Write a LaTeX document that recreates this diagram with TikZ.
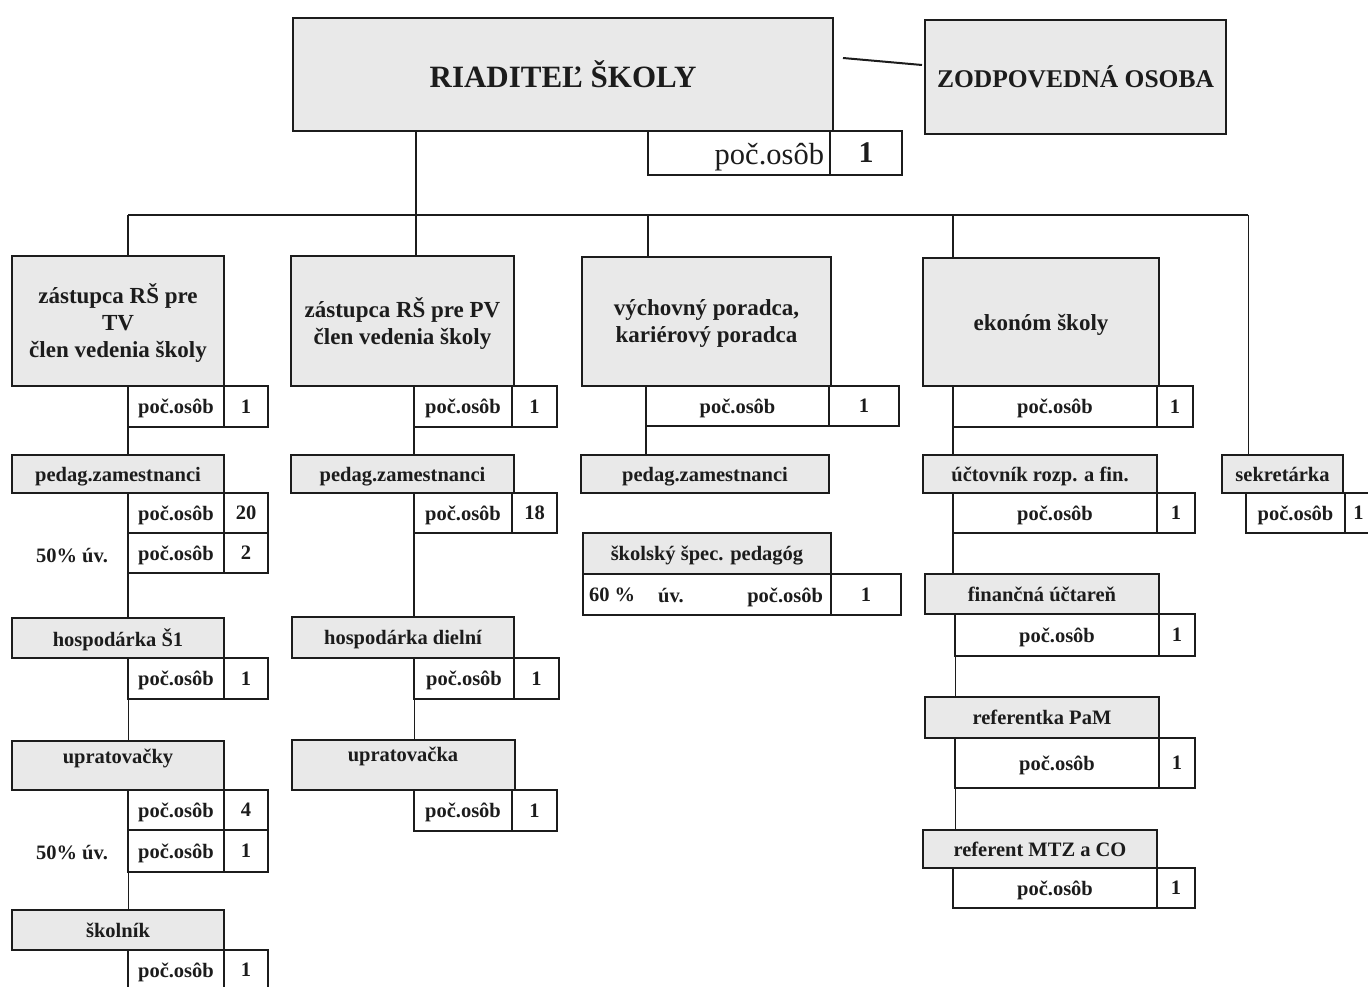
\documentclass[tikz,border=0pt]{standalone}
\usepackage{fontspec}
\setmainfont{Liberation Serif}
\definecolor{gfill}{HTML}{E9E9E9}
\definecolor{ink}{HTML}{1C1C1C}
\tikzset{
  every node/.style={inner sep=0pt, outer sep=0pt, text depth=0pt, text=ink, font=\bfseries\fontsize{20.5}{27}\selectfont},
  gbox/.style={draw=ink, line width=2.2pt, fill=gfill, align=center},
  bigbox/.style={gbox, font=\bfseries\fontsize{23}{27}\selectfont},
  wbox/.style={draw=ink, line width=2.2pt, fill=white, align=center},
  conn/.style={draw=ink, line width=1.6pt},
  thinconn/.style={draw=ink, line width=1pt},
}
% name, x1, y1, x2, y2, style, text
\newcommand{\Bx}[7]{\node[#6, minimum width={(#4-#2)*1pt}, minimum height={(#5-#3)*1pt}] (#1) at ({(#2+#4)/2},{(#3+#5)/2}) {#7};}
% name, x1, y1, xdiv, x2, y2, number
\newcommand{\Pc}[7]{\Bx{#1a}{#2}{#3}{#4}{#6}{wbox}{poč.osôb}\Bx{#1b}{#4}{#3}{#5}{#6}{wbox}{#7}}
\begin{document}
\begin{tikzpicture}[x=1pt,y=-1pt]
\useasboundingbox (0,0) rectangle (1368,987);

% top
\Bx{dir}{293}{18}{833}{131}{gbox, font=\bfseries\fontsize{31}{36}\selectfont}{RIADITEĽ ŠKOLY}
\Bx{dirpa}{648}{131}{830}{175}{wbox}{}
\node[anchor=east, font=\fontsize{30.5}{36}\selectfont] (dirpt) at (824,154) {poč.osôb};
\Bx{dirpb}{830}{131}{902}{175}{wbox, font=\bfseries\fontsize{30}{36}\selectfont}{1}
\Bx{zod}{925}{20}{1226}{134}{gbox, font=\bfseries\fontsize{25.5}{30}\selectfont}{ZODPOVEDNÁ OSOBA}
\coordinate (zs) at (843,58);
\coordinate (ze) at (922,65);
\draw[conn, line width=2pt] (zs) -- (ze);

% bus
\coordinate (bus) at (416,215);
\coordinate (c1) at (128,215);
\coordinate (c3) at (648,215);
\coordinate (c4) at (953,215);
\coordinate (c5) at (1248,215);

% column 1
\Bx{z1}{12}{256}{224}{386}{bigbox}{zástupca RŠ pre\\TV\\člen vedenia školy}
\Pc{z1p}{128}{386}{224}{268}{427}{1}
\Bx{pz1}{12}{455}{224}{493}{gbox}{pedag.zamestnanci}
\Pc{pz1p}{128}{493}{224}{268}{533}{20}
\Pc{pz1q}{128}{533}{224}{268}{573}{2}
\node (u1) at (72,555) {50\% úv.};
\Bx{h1}{12}{618}{224}{658}{gbox}{hospodárka Š1}
\Pc{h1p}{128}{658}{224}{268}{699}{1}
\Bx{up1}{12}{741}{224}{790}{gbox}{}
\node (up1t) at (118,756) {upratovačky};
\Pc{up1p}{128}{790}{224}{268}{830}{4}
\Pc{up1q}{128}{830}{224}{268}{872}{1}
\node (u2) at (72,852) {50\% úv.};
\Bx{sk}{12}{910}{224}{950}{gbox}{školník}
\Pc{skp}{128}{950}{224}{268}{990}{1}

% column 2
\Bx{z2}{291}{256}{514}{386}{bigbox}{zástupca RŠ pre PV\\člen vedenia školy}
\Pc{z2p}{414}{386}{512}{557}{427}{1}
\Bx{pz2}{291}{455}{514}{493}{gbox}{pedag.zamestnanci}
\Pc{pz2p}{414}{493}{512}{557}{533}{18}
\Bx{h2}{292}{617}{514}{658}{gbox}{hospodárka dielní}
\Pc{h2p}{414}{658}{514}{559}{699}{1}
\Bx{up2}{292}{740}{515}{790}{gbox}{}
\node (up2t) at (403,754) {upratovačka};
\Pc{up2p}{414}{790}{512}{557}{831}{1}

% column 3
\Bx{vp}{582}{257}{831}{386}{bigbox}{výchovný poradca,\\kariérový poradca}
\Pc{vpp}{646}{386}{829}{899}{426}{1}
\Bx{pz3}{581}{455}{829}{493}{gbox}{pedag.zamestnanci}
\Bx{ssp}{583}{533}{831}{574}{gbox}{školský špec. pedagóg}
\Bx{sspa}{583}{574}{831}{615}{wbox}{}
\node[anchor=west] (ssp60) at (589,595) {60 \%};
\node (sspuv) at (671,595) {úv.};
\node[anchor=east] (ssppo) at (823,595) {poč.osôb};
\Bx{sspb}{831}{574}{901}{615}{wbox}{1}

% column 4
\Bx{ek}{923}{258}{1159}{386}{bigbox}{ekonóm školy}
\Pc{ekp}{953}{386}{1157}{1193}{427}{1}
\Bx{uc}{923}{455}{1157}{493}{gbox}{účtovník rozp. a fin.}
\Pc{ucp}{953}{493}{1157}{1195}{533}{1}
\Bx{fu}{925}{574}{1159}{614}{gbox}{finančná účtareň}
\Pc{fup}{955}{614}{1159}{1195}{656}{1}
\Bx{rp}{925}{697}{1159}{738}{gbox}{referentka PaM}
\Pc{rpp}{955}{738}{1159}{1195}{788}{1}
\Bx{mtz}{923}{830}{1157}{868}{gbox}{referent MTZ a CO}
\Pc{mtzp}{953}{868}{1157}{1195}{908}{1}

% column 5
\Bx{sek}{1222}{455}{1343}{493}{gbox}{sekretárka}
\Pc{sekp}{1246}{493}{1345}{1372}{533}{1}

% connectors
\draw[conn] (dir.south -| bus) -- (bus) -- (z2.north -| bus);
\draw[conn] (c1) -- (c5);
\draw[conn] (c1) -- (z1.north -| c1);
\draw[conn] (c3) -- (vp.north -| c3);
\draw[conn] (c4) -- (ek.north -| c4);
\draw[thinconn] (c5) -- (sek.north -| c5);

\draw[conn] (z1pa.south west) -- (pz1.north -| z1pa.west);
\draw[conn] (pz1qa.south west) -- (h1.north -| pz1qa.west);
\draw[thinconn] (h1pa.south west) -- (up1.north -| h1pa.west);
\draw[thinconn] (up1qa.south west) -- (sk.north -| up1qa.west);

\draw[conn] (z2pa.south west) -- (pz2.north -| z2pa.west);
\draw[conn] (pz2pa.south west) -- (h2.north -| pz2pa.west);
\draw[thinconn] (h2pa.south west) -- (up2.north -| h2pa.west);

\draw[conn] (vppa.south west) -- (pz3.north -| vppa.west);

\draw[conn] (ekpa.south west) -- (uc.north -| ekpa.west);
\draw[conn] (ucpa.south west) -- (fu.north -| ucpa.west);
\draw[thinconn] (fupa.south west) -- (rp.north -| fupa.west);
\draw[thinconn] (rppa.south west) -- (mtz.north -| rppa.west);
\end{tikzpicture}
\end{document}
